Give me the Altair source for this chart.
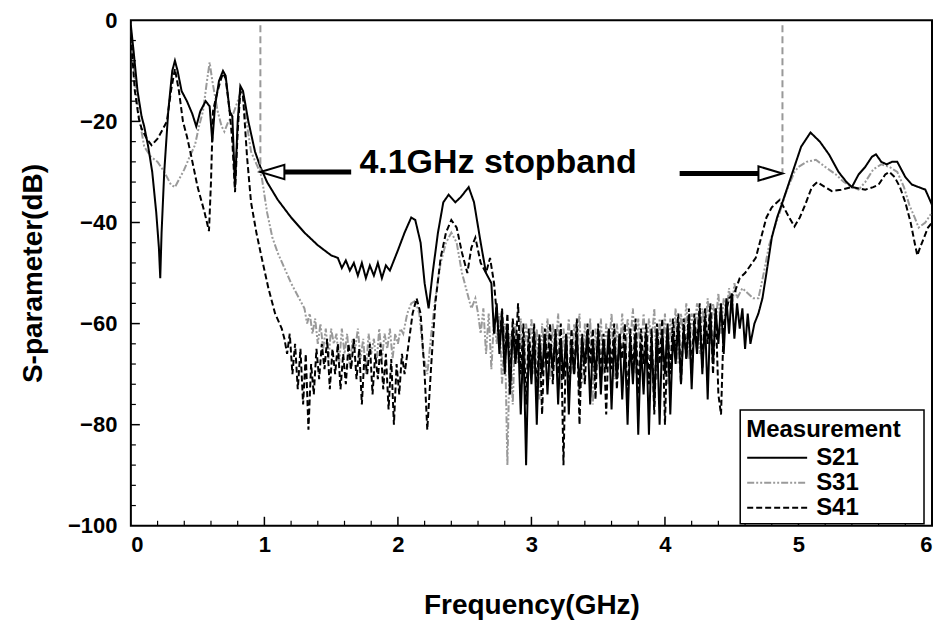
import altair as alt
import pandas as pd

# ---------------- data ----------------
s21_f = [0.00, 0.02, 0.05, 0.08, 0.10, 0.13, 0.16, 0.19, 0.21, 0.22, 0.23, 0.25, 0.28, 0.31, 0.33, 0.35,
         0.38, 0.42, 0.46, 0.49, 0.52, 0.56, 0.59, 0.61, 0.63, 0.66, 0.69, 0.71, 0.74, 0.76, 0.78, 0.80,
         0.82, 0.84, 0.88, 0.93, 0.97, 1.02, 1.10, 1.20, 1.30, 1.40, 1.50,
         1.55, 1.58, 1.61, 1.64, 1.67, 1.70, 1.73, 1.76, 1.79, 1.82, 1.85, 1.88, 1.91, 1.94, 1.97,
         2.00, 2.05, 2.10, 2.13, 2.17, 2.20, 2.23, 2.26, 2.30, 2.34, 2.38, 2.43, 2.47, 2.53, 2.57,
         2.62, 2.66, 2.70,
         2.72, 2.74, 2.76, 2.78, 2.80, 2.82, 2.84, 2.86, 2.88, 2.90, 2.92, 2.94, 2.96, 2.98,
         3.00, 3.02, 3.04, 3.06, 3.08, 3.10, 3.12, 3.14, 3.16, 3.18, 3.20, 3.22, 3.24, 3.26, 3.28,
         3.30, 3.32, 3.34, 3.36, 3.38, 3.40, 3.42, 3.44, 3.46, 3.48, 3.50, 3.52, 3.54, 3.56, 3.58,
         3.60, 3.62, 3.64, 3.66, 3.68, 3.70, 3.72, 3.74, 3.76, 3.78, 3.80, 3.82, 3.84, 3.86, 3.88,
         3.90, 3.92, 3.94, 3.96, 3.98, 4.00, 4.02, 4.04, 4.06, 4.08, 4.10, 4.12, 4.14, 4.16, 4.18,
         4.20, 4.22, 4.24, 4.26, 4.28, 4.30, 4.32, 4.34, 4.36, 4.38, 4.40, 4.42, 4.44, 4.46, 4.48,
         4.50, 4.52, 4.54, 4.56, 4.58, 4.60, 4.62,
         4.64, 4.67, 4.70, 4.73, 4.76, 4.80, 4.84, 4.88, 4.95, 5.02, 5.09, 5.16, 5.23, 5.30, 5.36,
         5.40, 5.45, 5.50, 5.55, 5.58, 5.62, 5.66, 5.70, 5.74, 5.80, 5.85, 5.90, 5.95, 6.00]
s21_db = [-1, -6, -14, -19, -21, -25, -30, -38, -45, -51, -42, -30, -18, -10, -8, -10,
          -14, -16, -18.5, -21, -18, -16, -17, -24, -17, -12, -10, -11, -18, -19, -33, -20,
          -13, -14, -20, -26, -29, -32, -35.5, -39, -42, -44.5, -46.5,
          -47, -49, -47.5, -49.5, -48, -50.5, -48, -51, -48.5, -50.5, -48, -51, -48.5, -49.5, -47.5,
          -45.5, -42, -39, -39.5, -44, -52, -57, -50, -42, -36, -34.5, -36, -35, -33, -36,
          -44, -50, -52,
          -62, -56, -66, -58, -70, -60, -74, -61, -68, -62, -78, -63, -88, -64,
          -72, -62, -80, -63, -70, -62, -74, -64, -69, -62, -76, -63, -71, -62, -78,
          -64, -70, -62, -73, -63, -68, -62, -76, -64, -70, -62, -74, -63, -69, -61,
          -77, -63, -71, -62, -75, -64, -80, -63, -72, -62, -82, -64, -74, -62, -82,
          -63, -76, -61, -80, -62, -70, -60, -78, -62, -68, -60, -72, -61, -67, -59,
          -73, -60, -66, -58, -70, -59, -75, -58, -68, -57, -64, -56, -66, -55, -62,
          -54, -63, -56, -61, -57, -65, -58,
          -64, -60, -58, -55, -50, -43, -39, -36, -30.5, -25, -22.2, -24, -26.6, -30, -32,
          -33, -30.5, -29, -27, -26.5, -28, -28.5, -28, -28, -31, -32.5, -33, -33.5, -36.5]

s31_f = [0.00, 0.03, 0.06, 0.10, 0.15, 0.20, 0.25, 0.30, 0.33, 0.37, 0.40, 0.44, 0.48, 0.51, 0.54,
         0.57, 0.59, 0.61, 0.65, 0.68, 0.70, 0.73, 0.76, 0.80, 0.83, 0.86, 0.90, 0.95, 0.98, 1.02,
         1.06, 1.10, 1.15, 1.20, 1.26,
         1.30, 1.32, 1.34, 1.36, 1.38, 1.40, 1.42, 1.44, 1.46, 1.48, 1.50, 1.52, 1.54, 1.56, 1.58,
         1.60, 1.62, 1.64, 1.66, 1.68, 1.70, 1.72, 1.74, 1.76, 1.78, 1.80, 1.82, 1.84, 1.86, 1.88,
         1.90, 1.92, 1.94, 1.96, 1.98, 2.00, 2.02, 2.04,
         2.07, 2.10, 2.13, 2.16, 2.19, 2.22, 2.25, 2.28, 2.32, 2.36, 2.40, 2.44, 2.48, 2.52, 2.55, 2.58,
         2.60, 2.62, 2.64, 2.66, 2.68, 2.70, 2.72, 2.74, 2.76, 2.78, 2.80, 2.82, 2.84, 2.86, 2.88,
         2.90, 2.92, 2.94, 2.96, 2.98, 3.00, 3.02, 3.04, 3.06, 3.08, 3.10, 3.12, 3.14, 3.16, 3.18,
         3.20, 3.22, 3.24, 3.26, 3.28, 3.30, 3.32, 3.34, 3.36, 3.38, 3.40, 3.42, 3.44, 3.46, 3.48,
         3.50, 3.52, 3.54, 3.56, 3.58, 3.60, 3.62, 3.64, 3.66, 3.68, 3.70, 3.72, 3.74, 3.76, 3.78,
         3.80, 3.82, 3.84, 3.86, 3.88, 3.90, 3.92, 3.94, 3.96, 3.98, 4.00, 4.02, 4.04, 4.06, 4.08,
         4.10, 4.12, 4.14, 4.16, 4.18, 4.20, 4.22, 4.24, 4.26, 4.28, 4.30, 4.32, 4.34, 4.36, 4.38,
         4.40, 4.42, 4.44, 4.46, 4.48, 4.50, 4.52, 4.54,
         4.58, 4.62, 4.66, 4.70, 4.74, 4.78, 4.82, 4.86, 4.90, 4.93, 4.97, 5.00, 5.06, 5.13, 5.20,
         5.28, 5.34, 5.40, 5.45, 5.50, 5.56, 5.62, 5.68, 5.74, 5.79, 5.83, 5.87, 5.90, 5.95, 6.00]
s31_db = [-2, -12, -19, -25, -27, -28, -30, -32.5, -33, -31, -29.5, -27, -24.7, -21, -18,
          -12, -8.3, -12, -18, -21, -22, -20, -19, -16, -13.5, -19, -26, -29, -31, -38,
          -43, -46, -49, -52, -55,
          -57, -60, -58, -62, -59, -64, -60, -65, -61, -67, -61, -64, -62, -68, -61,
          -66, -62, -69, -63, -65, -61, -67, -63, -70, -62, -66, -63, -68, -61, -67,
          -62, -65, -61, -67, -62, -64, -61, -62,
          -58, -56, -55.5, -58, -66, -70, -62, -55, -48, -44, -42, -44, -50, -54, -57, -55,
          -58, -62, -57, -66, -58, -69, -59, -64, -58, -72, -60, -88, -62, -76, -60,
          -68, -59, -72, -60, -66, -59, -70, -61, -75, -60, -67, -59, -71, -60, -66,
          -58, -73, -61, -66, -59, -70, -60, -65, -58, -72, -60, -67, -59, -76, -61,
          -68, -59, -70, -60, -65, -58, -71, -60, -66, -58, -69, -59, -64, -57, -70,
          -59, -66, -58, -68, -59, -64, -57, -71, -59, -66, -58, -72, -59, -65, -57,
          -68, -58, -63, -56, -67, -58, -62, -56, -66, -57, -61, -55, -64, -56, -60,
          -54, -62, -55, -58, -53, -58, -52, -55,
          -53, -54, -55, -55, -50, -44.5, -41, -38, -34.5, -32.5, -30, -29, -28, -27.6, -29,
          -30.5, -32, -33, -33.5, -32, -29.5, -28.5, -29, -30, -33, -36.5, -39, -41, -40, -38]

s41_f = [0.00, 0.03, 0.06, 0.08, 0.12, 0.155, 0.20, 0.24, 0.27, 0.30, 0.33, 0.36, 0.39, 0.42, 0.45,
         0.50, 0.55, 0.585, 0.60, 0.615, 0.64, 0.67, 0.69, 0.71, 0.74, 0.76, 0.78, 0.80, 0.82, 0.84,
         0.87, 0.90, 0.94, 0.98, 1.03, 1.08, 1.13,
         1.15, 1.17, 1.19, 1.21, 1.23, 1.25, 1.27, 1.29, 1.31, 1.33, 1.35, 1.37, 1.39, 1.41, 1.43,
         1.45, 1.47, 1.49, 1.51, 1.53, 1.55, 1.57, 1.59, 1.61, 1.63, 1.65, 1.67, 1.69, 1.71, 1.73,
         1.75, 1.77, 1.79, 1.81, 1.83, 1.85, 1.87, 1.89, 1.91, 1.93, 1.95, 1.97, 1.99, 2.01, 2.03, 2.05,
         2.08, 2.11, 2.14, 2.17, 2.20, 2.22, 2.25, 2.28, 2.32, 2.36, 2.40, 2.44, 2.48, 2.52, 2.55,
         2.58, 2.62, 2.66, 2.69, 2.72,
         2.74, 2.76, 2.78, 2.80, 2.82, 2.84, 2.86, 2.88, 2.90, 2.92, 2.94, 2.96, 2.98, 3.00, 3.02,
         3.04, 3.06, 3.08, 3.10, 3.12, 3.14, 3.16, 3.18, 3.20, 3.22, 3.24, 3.26, 3.28, 3.30, 3.32,
         3.34, 3.36, 3.38, 3.40, 3.42, 3.44, 3.46, 3.48, 3.50, 3.52, 3.54, 3.56, 3.58, 3.60, 3.62,
         3.64, 3.66, 3.68, 3.70, 3.72, 3.74, 3.76, 3.78, 3.80, 3.82, 3.84, 3.86, 3.88, 3.90, 3.92,
         3.94, 3.96, 3.98, 4.00, 4.02, 4.04, 4.06, 4.08, 4.10, 4.12, 4.14, 4.16, 4.18, 4.20, 4.22,
         4.24, 4.26, 4.28, 4.30, 4.32, 4.34, 4.36, 4.38, 4.40, 4.42, 4.44,
         4.48, 4.52, 4.56, 4.60, 4.64, 4.68, 4.72, 4.76, 4.80, 4.86, 4.90, 4.93, 4.97, 5.01, 5.05,
         5.10, 5.14, 5.20, 5.25, 5.32, 5.40, 5.50, 5.56, 5.60, 5.65, 5.68, 5.72, 5.76, 5.80, 5.84,
         5.87, 5.89, 5.91, 5.94, 5.97, 6.00]
s41_db = [-3, -14, -19.5, -21.4, -23.5, -24.7, -23.4, -21.5, -20, -14, -9.6, -14, -20, -23, -26.6,
          -33, -37.8, -41.7, -32, -18, -15, -12, -10.5, -11.5, -18, -24, -34, -22, -14, -15,
          -27, -36, -42, -47, -53, -58, -61,
          -63, -66, -62, -70, -64, -73, -65, -76, -66, -81, -68, -74, -65, -71, -64,
          -69, -63, -73, -65, -70, -64, -73, -66, -72, -64, -69, -63, -71, -65, -76,
          -66, -70, -64, -74, -66, -71, -64, -73, -66, -77, -67, -80, -68, -74, -66, -70,
          -64, -58, -55, -58, -70, -81, -68, -56, -47, -42, -39.5, -41, -46, -50, -45,
          -43, -48, -50, -47, -52,
          -58, -64, -57, -68, -58, -72, -59, -66, -56, -70, -60, -76, -61, -69, -60,
          -74, -62, -78, -61, -68, -60, -72, -61, -70, -60, -88, -62, -74, -61, -70,
          -59, -80, -62, -72, -60, -68, -61, -75, -60, -70, -62, -78, -61, -69, -60,
          -73, -62, -67, -60, -76, -61, -70, -59, -74, -61, -68, -60, -72, -61, -78,
          -60, -68, -59, -80, -61, -70, -59, -66, -58, -72, -59, -67, -57, -70, -58,
          -65, -56, -69, -57, -64, -56, -70, -57, -74, -78, -60,
          -55, -54, -51, -50, -48.5, -47, -43, -39, -37, -35.5, -37.5, -39, -40.8, -39, -36.5,
          -33, -32, -33, -33.8, -33.5, -33, -33.5, -33, -32.5, -30.5, -30, -31, -33, -36, -40,
          -44, -46.5, -45, -43, -41, -40]

series_names = ["S21", "S31", "S41"]
series_colors = ["#000000", "#9a9a9a", "#000000"]
series_dashes = [[1, 0], [7, 2, 2, 2, 2, 2], [6, 3]]
series_widths = [2.0, 2.0, 2.4]

x_labels = [0, 1, 2, 3, 4, 5, 6]
y_labels = [-100, -80, -60, -40, -20, 0]
x_major = [1, 2, 3, 4, 5]
x_minor = [0.2, 0.4, 0.6, 0.8, 1.2, 1.4, 1.6, 1.8, 2.2, 2.4, 2.6, 2.8, 3.2, 3.4, 3.6, 3.8,
           4.2, 4.4, 4.6, 4.8, 5.2, 5.4, 5.6, 5.8]
y_major = [-80, -60, -40, -20]
y_minor = [-96, -92, -88, -84, -76, -72, -68, -64, -56, -52, -48, -44, -36, -32, -28, -24,
           -16, -12, -8, -4]

band_edges = [0.97, 4.88]          # dashed markers of the stopband
arrow_level = [-30.0, -30.3]
annot_text = "4.1GHz stopband"
legend_title = "Measurement"

# ---------------- build tables ----------------
rows = []
for name, fs, vs in [("S31", s31_f, s31_db), ("S41", s41_f, s41_db), ("S21", s21_f, s21_db)]:
    for i, (f, v) in enumerate(zip(fs, vs)):
        rows.append({"series": name, "freq": f, "db": v, "idx": i})
df = pd.DataFrame(rows)

FONT = "Liberation Sans"
W, H = 802, 506
xs = alt.Scale(domain=[0, 6], nice=False, zero=False)
ys = alt.Scale(domain=[-100, 0], nice=False, zero=False)
X_AX = alt.Axis(values=x_labels, format="d", title="Frequency(GHz)", ticks=False, domain=False,
                grid=False, labelPadding=9, titlePadding=36)
Y_AX = alt.Axis(values=y_labels, title="S-parameter(dB)", ticks=False, domain=False,
                grid=False, labelPadding=14, titlePadding=20)


def X(field):
    return alt.X(field, scale=xs, axis=X_AX)


def Y(field):
    return alt.Y(field, scale=ys, axis=Y_AX)


lines = alt.Chart(df).mark_line(clip=True).encode(
    x=X("freq:Q"),
    y=Y("db:Q"),
    color=alt.Color("series:N", scale=alt.Scale(domain=series_names, range=series_colors), legend=None),
    strokeDash=alt.StrokeDash("series:N", scale=alt.Scale(domain=series_names, range=series_dashes), legend=None),
    strokeWidth=alt.StrokeWidth("series:N", scale=alt.Scale(domain=series_names, range=series_widths), legend=None),
    order="idx:Q",
)


def tick_layer(vals, axis, length, width):
    d = pd.DataFrame({"v": vals})
    if axis == "x":
        enc = dict(x=X("v:Q"), y=alt.value(H), y2=alt.value(H - length))
    else:
        enc = dict(y=Y("v:Q"), x=alt.value(0), x2=alt.value(length))
    return alt.Chart(d).mark_rule(color="black", strokeWidth=width).encode(**enc)


ticks = [tick_layer(x_major, "x", 9, 1.5), tick_layer(x_minor, "x", 5, 1.2),
         tick_layer(y_major, "y", 9, 1.5), tick_layer(y_minor, "y", 5, 1.2)]

edges = alt.Chart(pd.DataFrame({"f": band_edges, "top": [-1, -1], "bot": arrow_level})).mark_rule(
    color="#999999", strokeWidth=2, strokeDash=[7, 4]).encode(x=X("f:Q"), y=Y("top:Q"), y2="bot:Q")

shafts = alt.Chart(pd.DataFrame({"a": [1.15, 4.11], "b": [1.65, 4.70], "y": arrow_level})).mark_rule(
    color="black", strokeWidth=5).encode(x=X("a:Q"), x2="b:Q", y=Y("y:Q"))

head_l = alt.Chart(pd.DataFrame({"x": [1.06], "y": [arrow_level[0]]})).mark_point(
    shape="M -1 0 L 1 -0.6 L 1 0.6 Z", size=576, filled=True, fill="white", stroke="black",
    strokeWidth=2, opacity=1).encode(x=X("x:Q"), y=Y("y:Q"))
head_r = alt.Chart(pd.DataFrame({"x": [4.79], "y": [arrow_level[1]]})).mark_point(
    shape="M 1 0 L -1 -0.6 L -1 0.6 Z", size=576, filled=True, fill="white", stroke="black",
    strokeWidth=2, opacity=1).encode(x=X("x:Q"), y=Y("y:Q"))

label = alt.Chart(pd.DataFrame({"x": [2.75], "y": [-28.3], "t": [annot_text]})).mark_text(
    font=FONT, fontSize=34, fontWeight="bold", color="black", align="center", baseline="middle").encode(
    x=X("x:Q"), y=Y("y:Q"), text="t:N")

# ---------------- hand-built legend box (bottom right) ----------------
leg_layers = [
    alt.Chart(pd.DataFrame({"t": [legend_title]})).mark_rect(
        fill="white", stroke="black", strokeWidth=1.5).encode(
        x=alt.value(610), x2=alt.value(794), y=alt.value(390), y2=alt.value(H - 2)),
    alt.Chart(pd.DataFrame({"t": [legend_title]})).mark_text(
        font=FONT, fontSize=24, fontWeight="bold", color="black", align="left", baseline="middle").encode(
        x=alt.value(616), y=alt.value(410), text="t:N"),
]
row_y = [438, 463, 488]
for name, col, dash, ry in zip(series_names, series_colors, series_dashes, row_y):
    d = pd.DataFrame({"s": [name]})
    leg_layers.append(alt.Chart(d).mark_rule(color=col, strokeDash=dash, strokeWidth=2).encode(
        x=alt.value(617), x2=alt.value(677), y=alt.value(ry)))
    leg_layers.append(alt.Chart(d).mark_text(
        font=FONT, fontSize=24, fontWeight="bold", color="black", align="left", baseline="middle").encode(
        x=alt.value(686), y=alt.value(ry), text="s:N"))

chart = alt.layer(lines, *ticks, edges, shafts, head_l, head_r, label, *leg_layers).properties(
    width=W, height=H,
    autosize=alt.AutoSizeParams(type="none"),
    padding={"left": 123, "top": 12, "right": 2, "bottom": 100},
).configure_view(stroke="black", strokeWidth=2).configure_axis(
    labelFont=FONT, labelFontSize=22, labelFontWeight="bold", labelColor="black",
    titleFont=FONT, titleFontSize=28, titleFontWeight="bold", titleColor="black",
)

chart.save("out.html", embed_options={"renderer": "svg", "actions": False})
